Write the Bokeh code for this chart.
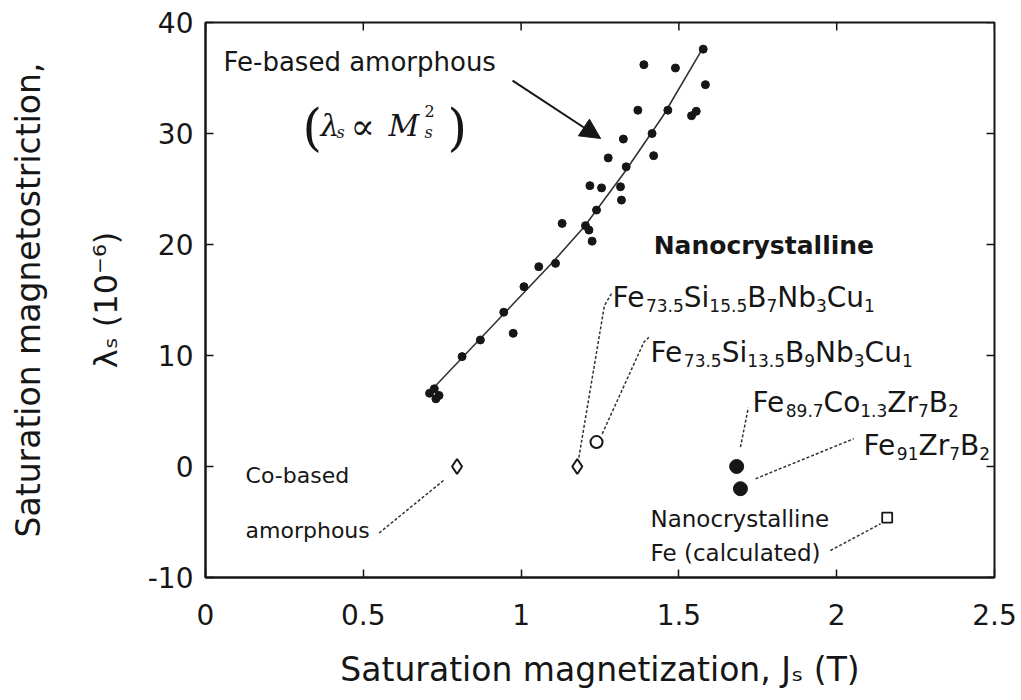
from bokeh.plotting import figure
from bokeh.models import (LinearAxis, FixedTicker, Range1d, ColumnDataSource,
                          Arrow, NormalHead)
from bokeh.core.properties import value
from bokeh.embed import file_html
from bokeh.resources import INLINE

# ---------------- data ----------------
amorph_J = [1.577, 1.389, 1.489, 1.584, 1.370, 1.465, 1.540, 1.555, 1.415,
            1.324, 1.276, 1.420, 1.333, 1.218, 1.255, 1.315, 1.318, 1.239,
            1.204, 1.215, 1.130, 1.225, 1.056, 1.109, 1.009, 0.945, 0.975,
            0.871, 0.813, 0.710, 0.725, 0.740, 0.730]
amorph_lam = [37.6, 36.2, 35.9, 34.4, 32.1, 32.1, 31.6, 32.0, 30.0,
              29.5, 27.8, 28.0, 27.0, 25.3, 25.1, 25.2, 24.0, 23.1,
              21.7, 21.3, 21.9, 20.3, 18.0, 18.3, 16.2, 13.9, 12.0,
              11.4, 9.9, 6.6, 7.0, 6.4, 6.1]

fit_J = [0.72, 0.82, 0.95, 1.10, 1.20, 1.33, 1.45, 1.58]
fit_lam = [7.0, 10.0, 13.9, 18.4, 21.6, 26.6, 31.6, 37.9]

co_J = [0.797]
co_lam = [0.0]
finemet_J = [1.178, 1.239]
finemet_lam = [0.0, 2.2]
nanoperm_J = [1.683, 1.695]
nanoperm_lam = [0.0, -2.0]
calc_J = [2.16]
calc_lam = [-4.6]

x_ticks = [0, 0.5, 1, 1.5, 2, 2.5]
x_tick_labels = ["0", "0.5", "1", "1.5", "2", "2.5"]
y_ticks = [-10, 0, 10, 20, 30, 40]
y_tick_labels = ["-10", "0", "10", "20", "30", "40"]

# leader lines (label -> point)
leader_xs = [[0.754, 0.548],
             [1.183, 1.264, 1.289],
             [1.257, 1.389, 1.405],
             [1.695, 1.720],
             [1.743, 2.054],
             [1.980, 2.139]]
leader_ys = [[-1.26, -6.04],
             [0.81, 14.5, 15.7],
             [2.94, 11.2, 11.65],
             [1.74, 5.3],
             [-1.1, 2.5],
             [-7.57, -5.16]]

# chemical formulas: (anchor J, anchor lambda, segments [(text, is_subscript)])
formulas = [
    (1.290, 15.23, [("Fe", 0), ("73.5", 1), ("Si", 0), ("15.5", 1), ("B", 0), ("7", 1),
                    ("Nb", 0), ("3", 1), ("Cu", 0), ("1", 1)]),
    (1.410, 10.27, [("Fe", 0), ("73.5", 1), ("Si", 0), ("13.5", 1), ("B", 0), ("9", 1),
                    ("Nb", 0), ("3", 1), ("Cu", 0), ("1", 1)]),
    (1.733, 5.77, [("Fe", 0), ("89.7", 1), ("Co", 0), ("1.3", 1), ("Zr", 0), ("7", 1),
                   ("B", 0), ("2", 1)]),
    (2.085, 1.89, [("Fe", 0), ("91", 1), ("Zr", 0), ("7", 1), ("B", 0), ("2", 1)]),
]

X_MIN, X_MAX = 0, 2.5
Y_MIN, Y_MAX = -10, 40

# ---------------- figure ----------------
INK = "#161616"
FONT = "DejaVu Sans"

p = figure(width=1021, height=700, x_range=Range1d(X_MIN, X_MAX),
           y_range=Range1d(Y_MIN, Y_MAX),
           output_backend="svg", toolbar_location=None,
           min_border_left=205, min_border_right=27, min_border_top=22,
           min_border_bottom=123)
p.grid.visible = False
p.outline_line_color = INK
p.outline_line_width = 2
p.background_fill_color = "white"
p.border_fill_color = "white"


def style_axis(ax, ticks, labels):
    ax.ticker = FixedTicker(ticks=ticks)
    ax.major_label_overrides = dict(zip(ticks, labels))
    ax.major_tick_in = 8
    ax.major_tick_out = 0
    ax.minor_tick_in = 0
    ax.minor_tick_out = 0
    ax.major_tick_line_color = INK
    ax.major_tick_line_width = 1.5
    ax.axis_line_color = INK
    ax.axis_line_width = 2
    ax.major_label_text_color = INK
    ax.major_label_text_font = FONT
    ax.major_label_text_font_size = "28px"
    ax.axis_label_text_font = FONT
    ax.axis_label_text_font_style = "normal"
    ax.axis_label_text_color = INK
    ax.axis_label_text_font_size = "33px"


xa = p.xaxis[0]
style_axis(xa, x_ticks, x_tick_labels)
xa.major_label_standoff = 26
xa.axis_label = "Saturation magnetization, Jₛ (T)"
xa.axis_label_standoff = 22

ya = p.yaxis[0]
style_axis(ya, y_ticks, y_tick_labels)
ya.major_label_standoff = 12
ya.axis_label = "λₛ (10⁻⁶)"
ya.axis_label_text_font_size = "32px"
ya.axis_label_standoff = 20

ya2 = LinearAxis(ticker=FixedTicker(ticks=[]), axis_label="Saturation magnetostriction,")
ya2.axis_line_color = None
ya2.major_tick_out = 0
ya2.major_tick_in = 0
ya2.minor_tick_out = 0
ya2.minor_tick_in = 0
ya2.major_label_standoff = 0
ya2.axis_label_text_font = FONT
ya2.axis_label_text_font_style = "normal"
ya2.axis_label_text_color = INK
ya2.axis_label_text_font_size = "33px"
ya2.axis_label_standoff = 36
p.add_layout(ya2, "left")

# inward ticks on the top and right frame edges
TICK_DX = 0.0253   # ~8 px in J units
TICK_DY = 0.72     # ~8 px in lambda units
p.segment(x0=x_ticks, y0=[Y_MAX] * len(x_ticks), x1=x_ticks,
          y1=[Y_MAX - TICK_DY] * len(x_ticks), line_color=INK, line_width=1.5)
p.segment(x0=[X_MAX] * len(y_ticks), y0=y_ticks, x1=[X_MAX - TICK_DX] * len(y_ticks),
          y1=y_ticks, line_color=INK, line_width=1.5)

# ---------------- marks ----------------
p.line(fit_J, fit_lam, line_color="#333333", line_width=1.6)
p.scatter(amorph_J, amorph_lam, size=8, marker="circle",
          fill_color=INK, line_color=INK)
p.scatter(co_J, co_lam, size=15, marker="diamond",
          fill_color="white", line_color=INK, line_width=2)
p.scatter(finemet_J[:1], finemet_lam[:1], size=15, marker="diamond",
          fill_color="white", line_color=INK, line_width=2)
p.scatter(finemet_J[1:], finemet_lam[1:], size=12, marker="circle",
          fill_color="white", line_color=INK, line_width=2)
p.scatter(nanoperm_J, nanoperm_lam, size=14, marker="circle",
          fill_color=INK, line_color=INK)
p.scatter(calc_J, calc_lam, size=10, marker="square",
          fill_color="white", line_color=INK, line_width=1.8)

p.multi_line(leader_xs, leader_ys, line_color="#333333", line_width=1.5,
             line_dash="3 2")

p.add_layout(Arrow(end=NormalHead(size=20, fill_color=INK, line_color=INK),
                   x_start=0.973, y_start=34.77, x_end=1.252, y_end=29.55,
                   line_color=INK, line_width=2))

# ---------------- plain labels ----------------
def txt(x, y, s, size, style="normal", baseline="middle"):
    p.text(x=[x], y=[y], text=[s], text_font=value(FONT), text_font_size=size,
           text_font_style=style, text_color=INK, text_align="left",
           text_baseline=baseline)


txt(0.057, 36.4, "Fe-based amorphous", "26px")
txt(1.42, 19.9, "Nanocrystalline", "25px", style="bold")
txt(0.127, -0.8, "Co-based", "22px")
txt(0.127, -5.8, "amorphous", "22px")
txt(1.41, -4.77, "Nanocrystalline", "23px")
txt(1.41, -7.75, "Fe (calculated)", "23px")

# ---------------- chemical formulas with subscripts ----------------
W = {'F': .575, 'e': .615, 'S': .635, 'i': .278, 'B': .686, 'N': .748, 'b': .635,
     'C': .698, 'u': .634, 'o': .612, 'Z': .685, 'r': .411, '.': .318, ' ': .318}
MAIN_PX, SUB_PX = 28, 17
main = dict(x=[], y=[], text=[], xo=[], yo=[])
sub = dict(x=[], y=[], text=[], xo=[], yo=[])
for fx, fy, segs in formulas:
    off = 0.0
    for s, is_sub in segs:
        size = SUB_PX if is_sub else MAIN_PX
        d = sub if is_sub else main
        d["x"].append(fx); d["y"].append(fy); d["text"].append(s)
        d["xo"].append(off); d["yo"].append(8 if is_sub else 0)
        off += sum(W.get(c, .636) for c in s) * size
p.text(x="x", y="y", text="text", x_offset="xo", y_offset="yo",
       source=ColumnDataSource(main), text_font=value(FONT),
       text_font_size=f"{MAIN_PX}px", text_color=INK, text_align="left",
       text_baseline="alphabetic")
p.text(x="x", y="y", text="text", x_offset="xo", y_offset="yo",
       source=ColumnDataSource(sub), text_font=value(FONT),
       text_font_size=f"{SUB_PX}px", text_color=INK, text_align="left",
       text_baseline="alphabetic")

# ---------------- (lambda_s ∝ M_s^2) ----------------
LX, LY = 0.307, 30.72
SERIF = "DejaVu Serif"


def piece(s, xo, yo, size, style):
    p.text(x=[LX], y=[LY], text=[s], x_offset=xo, y_offset=yo,
           text_font=value(SERIF), text_font_size=size, text_font_style=style,
           text_color=INK, text_align="left", text_baseline="alphabetic")


piece("(", 0, 2, "50px", "normal")
piece("λ", 18, 0, "30px", "italic")
piece("s", 34, 7, "16px", "italic")
piece("∝", 48, 1, "36px", "normal")
piece("M", 86, 0, "30px", "italic")
piece("2", 122, -15, "16px", "normal")
piece("s", 122, 7, "16px", "italic")
piece(")", 145, 2, "50px", "normal")

open("out.html", "w").write(file_html(p, INLINE))
